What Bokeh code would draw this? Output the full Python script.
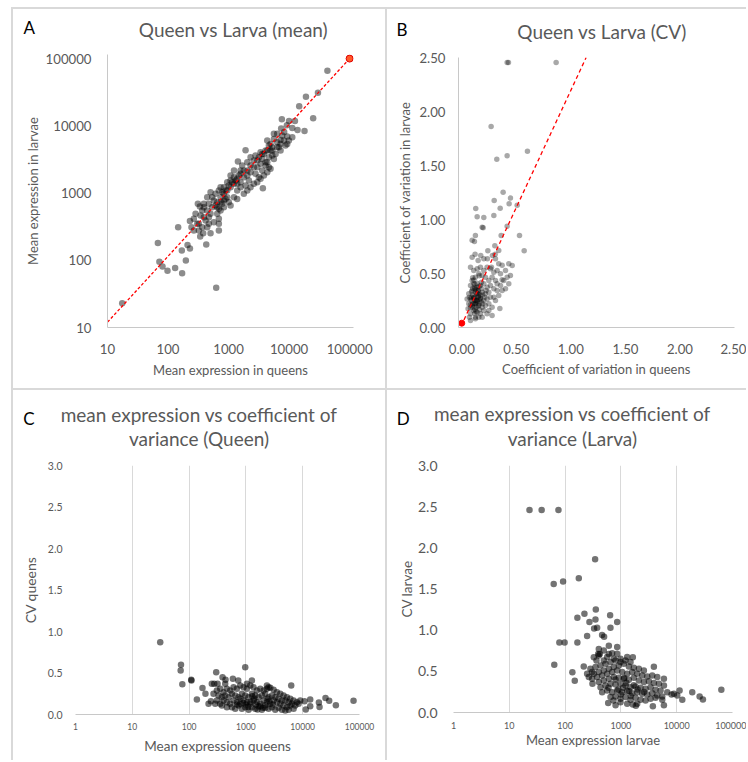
from bokeh.plotting import figure
from bokeh.layouts import row, column
from bokeh.models import Range1d, FixedTicker, PrintfTickFormatter, Spacer
from bokeh.core.properties import value
from bokeh.embed import file_html
from bokeh.resources import INLINE

# ---------------- data ----------------
# Panel A: mean expression queens (x) vs larvae (y)
a_queen = [
    17.5, 43000, 30000, 19000, 14700, 25000, 7600, 10000, 12500, 7400,
    9200, 8300, 11300, 13800, 18000, 1910, 3690, 1430, 311, 147,
    230, 244, 68, 72, 81, 98, 131, 171, 197, 169,
    210, 230, 428, 625, 340, 381, 504, 692, 4360, 4940,
    5610, 6370, 7230, 8210, 9320, 5270, 5980, 4360, 3840, 3380,
    4640, 5610, 2980, 3380, 4090, 4640, 2620, 2310, 2040, 2790,
    3170, 1790, 1580, 2170, 1580, 1390, 1230, 1080, 1580, 1390,
    1080, 951, 838, 738, 892, 1010, 786, 650, 572, 650,
    537, 473, 444, 504, 391, 417, 345, 323, 367, 473,
    572, 692, 650, 738, 838, 1080, 1230, 1390, 1790, 2040,
    2310, 2620, 2980, 3380, 3840, 4360, 4940, 7230, 8740, 6790,
    9930, 5270, 6370, 5610, 7700, 9320, 11300, 4640, 4090, 3600,
    1910, 1680, 2310, 2790, 2040, 1230, 1580, 1080, 951, 838,
    692, 610, 738, 537, 444, 504, 391, 367, 267, 285,
    304, 267, 323, 444, 692, 391, 336, 473, 1230, 1310,
    1390, 1480, 1150, 1010, 892, 786, 951, 838, 738, 610,
    692, 1790, 2040, 2310, 2620, 3170, 3600, 4090, 4940, 3600,
    2980, 4360, 5270, 6370, 7230,
]
a_larva = [
    23, 66000, 31000, 27000, 19500, 13000, 12500, 11800, 11800, 9100,
    10200, 8100, 9300, 8700, 8400, 4340, 1180, 2940, 690, 310,
    385, 310, 180, 95, 81, 70, 77, 64, 99, 140,
    169, 150, 171, 39, 225, 253, 253, 277, 6030, 5380,
    6380, 5700, 6170, 6030, 5380, 4290, 3820, 4290, 3820, 4050,
    3410, 3220, 3040, 2720, 2570, 2420, 2420, 2570, 2160, 1930,
    1720, 1720, 1930, 1540, 1450, 1630, 1370, 1540, 1220, 1090,
    1220, 1090, 972, 867, 818, 731, 690, 731, 773, 615,
    615, 690, 549, 490, 437, 390, 462, 348, 310, 348,
    368, 348, 490, 549, 615, 652, 867, 818, 972, 1090,
    1220, 1370, 1450, 1630, 1820, 2040, 2290, 4290, 5080, 4800,
    6030, 4800, 7590, 7590, 7160, 6920, 6760, 5080, 2870, 2160,
    1290, 2570, 3410, 3610, 2870, 2160, 2160, 1820, 1450, 1220,
    1090, 972, 1220, 867, 867, 1030, 690, 549, 413, 490,
    348, 277, 277, 310, 413, 615, 630, 437, 1720, 1540,
    1370, 1820, 1450, 1290, 1090, 1030, 867, 773, 731, 652,
    582, 2160, 1820, 2040, 3040, 3410, 3820, 4290, 4290, 3220,
    2420, 2870, 3610, 4800, 5380,
]
a_ref_x = [10, 100000]
a_ref_y = [12, 100000]
a_mark_x = [100000]
a_mark_y = [100000]

# Panel B: CV queens (x) vs CV larvae (y)
b_queen = [
    0.416, 0.428, 0.865, 0.269, 0.602, 0.321, 0.416, 0.379, 0.446, 0.297,
    0.434, 0.508, 0.128, 0.352, 0.141, 0.202, 0.294, 0.196, 0.187, 0.416,
    0.125, 0.361, 0.529, 0.095, 0.116, 0.303, 0.572, 0.239, 0.339, 0.122,
    0.174, 0.306, 0.281, 0.235, 0.370, 0.150, 0.202, 0.370, 0.349, 0.095,
    0.080, 0.110, 0.141, 0.171, 0.202, 0.232, 0.263, 0.294, 0.324, 0.355,
    0.278, 0.309, 0.248, 0.217, 0.187, 0.156, 0.125, 0.095, 0.080, 0.110,
    0.141, 0.171, 0.202, 0.232, 0.263, 0.294, 0.324, 0.248, 0.217, 0.187,
    0.156, 0.125, 0.095, 0.064, 0.080, 0.110, 0.141, 0.171, 0.202, 0.232,
    0.263, 0.125, 0.095, 0.156, 0.187, 0.217, 0.248, 0.110, 0.141, 0.171,
    0.202, 0.080, 0.125, 0.187, 0.232, 0.278, 0.309, 0.339, 0.355, 0.385,
    0.401, 0.431, 0.294, 0.064, 0.058, 0.049, 0.070, 0.125, 0.156, 0.080,
    0.248, 0.278, 0.401, 0.431, 0.462, 0.339, 0.309, 0.272, 0.370, 0.416,
    0.446, 0.324, 0.211, 0.180, 0.150, 0.119, 0.089, 0.150, 0.119, 0.180,
    0.223, 0.101, 0.131, 0.162, 0.193,
    0.10, 0.12, 0.14, 0.16, 0.11, 0.13, 0.09, 0.15, 0.12, 0.17,
    0.14, 0.10, 0.18, 0.08, 0.13, 0.16,
    0.09, 0.11, 0.13, 0.15, 0.10, 0.12, 0.14, 0.16, 0.11, 0.13,
    0.08, 0.12, 0.15, 0.17, 0.10, 0.14, 0.19, 0.07, 0.12, 0.16,
]
b_larva = [
    2.454, 2.454, 2.454, 1.861, 1.633, 1.559, 1.590, 1.253, 1.198, 1.176,
    1.145, 1.133, 1.102, 1.105, 1.025, 1.019, 1.037, 0.923, 0.929, 0.938,
    0.852, 0.852, 0.852, 0.809, 0.796, 0.756, 0.710, 0.710, 0.713, 0.679,
    0.667, 0.679, 0.667, 0.636, 0.577, 0.620, 0.636, 0.441, 0.176, 0.651,
    0.559, 0.528, 0.543, 0.559, 0.528, 0.559, 0.543, 0.512, 0.528, 0.497,
    0.466, 0.435, 0.435, 0.466, 0.481, 0.497, 0.466, 0.435, 0.389, 0.404,
    0.373, 0.389, 0.404, 0.373, 0.389, 0.358, 0.343, 0.327, 0.312, 0.327,
    0.312, 0.327, 0.343, 0.312, 0.265, 0.281, 0.250, 0.265, 0.250, 0.265,
    0.281, 0.219, 0.204, 0.204, 0.188, 0.204, 0.219, 0.157, 0.142, 0.127,
    0.157, 0.127, 0.096, 0.096, 0.127, 0.188, 0.250, 0.296, 0.389, 0.435,
    0.358, 0.404, 0.281, 0.219, 0.173, 0.265, 0.096, 0.080, 0.096, 0.065,
    0.157, 0.111, 0.528, 0.590, 0.574, 0.590, 0.636, 0.559, 0.343, 0.466,
    0.481, 0.404, 0.281, 0.235, 0.281, 0.250, 0.281, 0.343, 0.358, 0.358,
    0.343, 0.219, 0.188, 0.164, 0.219,
    0.30, 0.28, 0.32, 0.26, 0.22, 0.35, 0.25, 0.20, 0.40, 0.30,
    0.24, 0.36, 0.42, 0.18, 0.15, 0.38,
    0.33, 0.27, 0.23, 0.29, 0.19, 0.37, 0.31, 0.22, 0.44, 0.25,
    0.21, 0.17, 0.34, 0.27, 0.46, 0.41, 0.30, 0.28, 0.13, 0.48,
]
b_ref_x = [0.02, 1.14]
b_ref_y = [0.07, 2.50]
b_mark_x = [0.0]
b_mark_y = [0.04]

# Panel C: mean expression queens (x) vs CV queens (y)
c_mean = [
    31, 72, 71, 76, 109, 110, 172, 137, 300, 388,
    438, 590, 733, 973, 6280, 194, 220, 242, 251, 277,
    317, 9040, 10770, 13550, 19270, 19790, 25200, 29260, 38370, 78500,
    11320, 13550,
    308, 353, 404, 463, 530, 606, 694, 795, 910, 1041,
    1192, 1364, 1562, 1789, 2047, 2344, 2684, 3072, 3517, 4028,
    4608, 5276, 6040, 6914, 7916, 330, 378, 432, 495, 567,
    649, 743, 850, 973, 1114, 1275, 1459, 1671, 1913, 2191,
    2508, 2872, 3288, 3763, 4307, 4931, 5645, 6463, 7398, 8470,
    353, 404, 463, 530, 606, 694, 795, 910, 1041, 1192,
    1364, 1562, 1789, 2047, 2344, 2684, 3072, 3517, 4028, 4608,
    5276, 6040, 6914, 567, 649, 743, 850, 973, 1114, 1275,
    1459, 1671, 1913, 2191, 2508, 2872, 3288, 3763, 4307, 4931,
    5645, 463, 378, 308, 288, 269, 1041, 1275, 2344, 2508,
    432,
    1200, 1500, 1800, 1000, 2200, 1400, 900, 2600, 800, 1600,
    2000, 1100, 3000, 700, 1300, 2400,
]
c_cv = [
    0.87, 0.60, 0.53, 0.365, 0.42, 0.41, 0.32, 0.18, 0.51, 0.45,
    0.42, 0.43, 0.41, 0.57, 0.35, 0.25, 0.13, 0.16, 0.37, 0.37,
    0.37, 0.17, 0.16, 0.18, 0.145, 0.09, 0.20, 0.165, 0.11, 0.165,
    0.06, 0.10,
    0.289, 0.309, 0.269, 0.309, 0.289, 0.329, 0.309, 0.349, 0.329, 0.309,
    0.349, 0.329, 0.289, 0.309, 0.289, 0.309, 0.321, 0.297, 0.269, 0.249,
    0.229, 0.209, 0.189, 0.169, 0.149, 0.229, 0.209, 0.229, 0.209, 0.249,
    0.229, 0.209, 0.249, 0.229, 0.209, 0.249, 0.229, 0.209, 0.229, 0.249,
    0.209, 0.229, 0.209, 0.189, 0.169, 0.169, 0.149, 0.129, 0.108, 0.129,
    0.129, 0.169, 0.149, 0.129, 0.169, 0.149, 0.129, 0.169, 0.149, 0.129,
    0.169, 0.149, 0.129, 0.169, 0.149, 0.129, 0.169, 0.149, 0.129, 0.108,
    0.088, 0.108, 0.068, 0.088, 0.068, 0.108, 0.068, 0.088, 0.056, 0.088,
    0.068, 0.096, 0.056, 0.080, 0.068, 0.088, 0.056, 0.080, 0.056, 0.048,
    0.056, 0.088, 0.108, 0.169, 0.129, 0.249, 0.369, 0.41, 0.349, 0.329,
    0.369,
    0.15, 0.12, 0.10, 0.12, 0.11, 0.19, 0.14, 0.16, 0.19, 0.06,
    0.08, 0.09, 0.12, 0.12, 0.22, 0.19,
]

# Panel D: mean expression larvae (x) vs CV larvae (y)
d_mean = [
    23, 38, 76, 64, 345, 62.5, 92, 176, 166, 222,
    355, 641, 273, 350, 857, 331, 375, 650, 248, 460,
    500, 79, 98, 166, 135, 149, 608, 857, 402, 391,
    327, 419, 608, 697, 216, 248, 309, 3900, 1637, 5900,
    19000, 25750, 29500, 11270, 8090, 12600, 592, 802, 738, 3740,
    5900, 1854, 1637, 63100,
    284, 350, 431, 529, 651, 800, 984, 1210, 1488, 327,
    402, 494, 608, 747, 918, 1129, 1389, 1707, 2099, 2581,
    305, 375, 461, 567, 697, 857, 1054, 1296, 1594, 1959,
    2409, 2963, 3644, 4480, 402, 494, 608, 747, 918, 1129,
    1389, 1707, 2099, 2581, 3174, 3904, 4800, 5903, 431, 529,
    651, 800, 984, 1210, 1488, 1829, 2249, 2765, 3401, 4182,
    5142, 6775, 8920, 10230, 461, 567, 697, 857, 1054, 1296,
    1594, 1959, 2409, 2963, 3644, 4480, 5510, 651, 800, 984,
    1210, 1488, 1829, 2249, 2765, 3401, 4182, 5510, 1296, 984,
    1959, 305, 266, 365, 402, 494, 567, 747, 984, 1296,
    494, 857,
    1100, 1400, 900, 1700, 1250, 1000, 2000, 800, 1500, 600,
    2600, 1150,
]
d_cv = [
    2.46, 2.46, 2.46, 0.58, 1.86, 1.56, 1.59, 1.63, 1.15, 1.20,
    1.25, 1.18, 1.10, 1.13, 1.10, 1.02, 1.03, 1.03, 0.93, 0.94,
    0.92, 0.85, 0.85, 0.85, 0.49, 0.385, 0.81, 0.795, 0.77, 0.71,
    0.67, 0.71, 0.71, 0.72, 0.56, 0.47, 0.35, 0.556, 0.67, 0.41,
    0.247, 0.195, 0.158, 0.268, 0.219, 0.154, 0.114, 0.089, 0.146, 0.077,
    0.089, 0.081, 0.097, 0.276,
    0.531, 0.552, 0.572, 0.592, 0.612, 0.633, 0.653, 0.633, 0.612, 0.470,
    0.491, 0.511, 0.531, 0.552, 0.572, 0.592, 0.560, 0.543, 0.531, 0.511,
    0.410, 0.430, 0.450, 0.470, 0.491, 0.511, 0.491, 0.470, 0.491, 0.470,
    0.450, 0.438, 0.450, 0.430, 0.369, 0.389, 0.410, 0.430, 0.422, 0.410,
    0.397, 0.422, 0.389, 0.369, 0.381, 0.357, 0.349, 0.328, 0.308, 0.328,
    0.349, 0.341, 0.349, 0.328, 0.308, 0.316, 0.300, 0.288, 0.308, 0.276,
    0.268, 0.247, 0.227, 0.207, 0.247, 0.268, 0.247, 0.268, 0.247, 0.260,
    0.235, 0.247, 0.227, 0.219, 0.235, 0.207, 0.195, 0.187, 0.195, 0.166,
    0.187, 0.154, 0.178, 0.154, 0.146, 0.166, 0.178, 0.154, 0.105, 0.126,
    0.105, 0.491, 0.430, 0.633, 0.693, 0.754, 0.673, 0.653, 0.612, 0.673,
    0.633, 0.714,
    0.30, 0.26, 0.28, 0.33, 0.36, 0.22, 0.28, 0.40, 0.20, 0.30,
    0.25, 0.42,
]

log_ticks = [10, 100, 1000, 10000, 100000]
log_ticks_cd = [1, 10, 100, 1000, 10000, 100000]
cv_ticks_b = [0, 0.5, 1.0, 1.5, 2.0, 2.5]
cv_ticks_cd = [0, 0.5, 1.0, 1.5, 2.0, 2.5, 3.0]

title_a = "Queen vs Larva (mean)"
title_b = "Queen vs Larva (CV)"
title_c = ["mean expression vs coefficient of", "variance (Queen)"]
title_d = ["mean expression vs coefficient of", "variance (Larva)"]

# ---------------- styling ----------------
FONT = "Lato"
TXT = "#595959"
AXIS = "#c8c8c8"
LINE = "#d9d9d9"
TITLE_SIZE = "19px"
LETTER_SIZE = "17px"


def no_align(p):
    try:
        p.frame_align = False
    except Exception:
        pass


def header(width, height, items):
    h = figure(width=width, height=height, x_range=Range1d(0, width), y_range=Range1d(0, height),
               min_border=0, min_border_left=0, min_border_right=0, min_border_top=0, min_border_bottom=0,
               x_axis_location=None, y_axis_location=None,
               output_backend="svg", toolbar_location=None, tools="")
    no_align(h)
    h.grid.visible = False
    h.outline_line_color = None
    for (x, y, txt, size, color, align) in items:
        h.text(x=[x], y=[y], text=[txt], text_font=value(FONT), text_font_size=value(size),
               text_color=color, text_align=value(align), text_baseline=value("alphabetic"))
    return h


def base(width, height, xr, yr, xtype, ytype, mbl, mbr, mbt, mbb):
    p = figure(width=width, height=height, x_range=xr, y_range=yr,
               x_axis_type=xtype, y_axis_type=ytype,
               min_border_left=mbl, min_border_right=mbr,
               min_border_top=mbt, min_border_bottom=mbb,
               output_backend="svg", toolbar_location=None, tools="")
    no_align(p)
    p.outline_line_color = None
    for ax in (p.xaxis, p.yaxis):
        ax.major_tick_line_color = None
        ax.minor_tick_line_color = None
        ax.major_label_text_font = FONT
        ax.major_label_text_color = TXT
        ax.axis_label_text_font = FONT
        ax.axis_label_text_color = TXT
        ax.axis_label_text_font_style = "normal"
    p.xgrid.grid_line_color = None
    p.ygrid.grid_line_color = None
    return p


# ---- Panel A ----
hA = header(372, 38, [(10, 20, "A", LETTER_SIZE, "black", "left"),
                      (220, 18, title_a, TITLE_SIZE, TXT, "center")])
pA = base(372, 341, Range1d(10, 116000), Range1d(10, 115000), "log", "log", 94, 32, 7, 61)
pA.xaxis.ticker = FixedTicker(ticks=log_ticks)
pA.yaxis.ticker = FixedTicker(ticks=log_ticks)
pA.xaxis.formatter = PrintfTickFormatter(format="%d")
pA.yaxis.formatter = PrintfTickFormatter(format="%d")
pA.xaxis.axis_line_color = AXIS
pA.yaxis.axis_line_color = AXIS
pA.xaxis.major_label_text_font_size = "13.2px"
pA.yaxis.major_label_text_font_size = "13.2px"
pA.xaxis.major_label_standoff = 10
pA.yaxis.major_label_standoff = 10
pA.xaxis.axis_label = "Mean expression in queens"
pA.yaxis.axis_label = "Mean expression in larvae"
pA.xaxis.axis_label_text_font_size = "13px"
pA.yaxis.axis_label_text_font_size = "13px"
pA.xaxis.axis_label_standoff = 5
pA.yaxis.axis_label_standoff = 2
pA.scatter(a_queen, a_larva, size=6.5, fill_color="black", fill_alpha=0.45, line_color=None)
pA.line(a_ref_x, a_ref_y, line_color="#ff0000", line_dash="3 2", line_width=1.3)
pA.scatter(a_mark_x, a_mark_y, size=7, fill_color="#ff5a2a", line_color="#e00000", line_width=1)

# ---- Panel B ----
hB = header(359, 38, [(9, 18.3, "B", LETTER_SIZE, "black", "left"),
                      (214.5, 16, title_b, TITLE_SIZE, TXT, "center")])
pB = base(359, 341, Range1d(-0.03, 2.5), Range1d(0, 2.5), "linear", "linear", 71, 12, 10, 61)
pB.xaxis.ticker = FixedTicker(ticks=cv_ticks_b)
pB.yaxis.ticker = FixedTicker(ticks=cv_ticks_b)
pB.xaxis.formatter = PrintfTickFormatter(format="%.2f")
pB.yaxis.formatter = PrintfTickFormatter(format="%.2f")
pB.xaxis.axis_line_color = AXIS
pB.yaxis.axis_line_color = AXIS
pB.xaxis.major_label_text_font_size = "13.2px"
pB.yaxis.major_label_text_font_size = "13.2px"
pB.xaxis.major_label_standoff = 10
pB.yaxis.major_label_standoff = 7
pB.xaxis.axis_label = "Coefficient of variation in queens"
pB.yaxis.axis_label = "Coefficient of variation in larvae"
pB.xaxis.axis_label_text_font_size = "13px"
pB.yaxis.axis_label_text_font_size = "13px"
pB.xaxis.axis_label_standoff = 4
pB.yaxis.axis_label_standoff = 3
pB.scatter(b_queen, b_larva, size=5.5, fill_color="black", fill_alpha=0.34, line_color=None)
pB.line(b_ref_x, b_ref_y, line_color="#ff0000", line_dash="4 3", line_width=1.3)
pB.scatter(b_mark_x, b_mark_y, size=6, fill_color="#ff0000", line_color="#ff0000")

# ---- Panel C ----
hC = header(372, 68, [(9.7, 39.7, "C", LETTER_SIZE, "black", "left"),
                      (185.5, 44.5, title_c[0], TITLE_SIZE, TXT, "center"),
                      (185.5, 20, title_c[1], TITLE_SIZE, TXT, "center")])
pC = base(372, 302, Range1d(1, 100000), Range1d(0, 3), "log", "linear", 62, 26, 7, 46)
pC.xaxis.ticker = FixedTicker(ticks=log_ticks_cd)
pC.yaxis.ticker = FixedTicker(ticks=cv_ticks_cd)
pC.xaxis.formatter = PrintfTickFormatter(format="%d")
pC.yaxis.formatter = PrintfTickFormatter(format="%.1f")
pC.xaxis.axis_line_color = AXIS
pC.yaxis.axis_line_color = None
pC.xgrid.grid_line_color = LINE
pC.xaxis.major_label_text_font_size = "8.5px"
pC.yaxis.major_label_text_font_size = "10.5px"
pC.xaxis.major_label_standoff = 2
pC.yaxis.major_label_standoff = 7
pC.xaxis.axis_label = "Mean expression queens"
pC.yaxis.axis_label = "CV queens"
pC.xaxis.axis_label_text_font_size = "13.5px"
pC.yaxis.axis_label_text_font_size = "14px"
pC.xaxis.axis_label_standoff = 5
pC.yaxis.axis_label_standoff = 6
pC.scatter(c_mean, c_cv, size=6.5, fill_color="black", fill_alpha=0.55, line_color=None)

# ---- Panel D ----
hD = header(359, 68, [(9.3, 40, "D", LETTER_SIZE, "black", "left"),
                      (184.8, 44.7, title_d[0], TITLE_SIZE, TXT, "center"),
                      (184.8, 20, title_d[1], TITLE_SIZE, TXT, "center")])
pD = base(359, 302, Range1d(1, 100000), Range1d(0, 3), "log", "linear", 66, 14, 7, 48)
pD.xaxis.ticker = FixedTicker(ticks=log_ticks_cd)
pD.yaxis.ticker = FixedTicker(ticks=cv_ticks_cd)
pD.xaxis.formatter = PrintfTickFormatter(format="%d")
pD.yaxis.formatter = PrintfTickFormatter(format="%.1f")
pD.xaxis.axis_line_color = AXIS
pD.yaxis.axis_line_color = None
pD.xgrid.grid_line_color = LINE
pD.xaxis.major_label_text_font_size = "9px"
pD.yaxis.major_label_text_font_size = "14px"
pD.xaxis.major_label_standoff = 3
pD.yaxis.major_label_standoff = 10
pD.xaxis.axis_label = "Mean expression larvae"
pD.yaxis.axis_label = "CV larvae"
pD.xaxis.axis_label_text_font_size = "13px"
pD.yaxis.axis_label_text_font_size = "13.5px"
pD.xaxis.axis_label_standoff = 0
pD.yaxis.axis_label_standoff = 0
pD.scatter(d_mean, d_cv, size=6.5, fill_color="black", fill_alpha=0.55, line_color=None)


def vline(h):
    return Spacer(width=2, height=h, styles={"background-color": LINE})


def hline(w):
    return Spacer(width=w, height=2, styles={"background-color": LINE})


left_col = column(Spacer(width=372, height=7), hline(372), hA, pA, hline(372), hC, pC)
right_col = column(Spacer(width=359, height=7), hline(359), hB, pB, hline(359), hD, pD)
v1 = column(Spacer(width=2, height=7), vline(753))
v2 = column(Spacer(width=2, height=7), vline(753))
layout = row(Spacer(width=11, height=760), v1, left_col, v2, right_col)
open("out.html", "w").write(file_html(layout, INLINE))
